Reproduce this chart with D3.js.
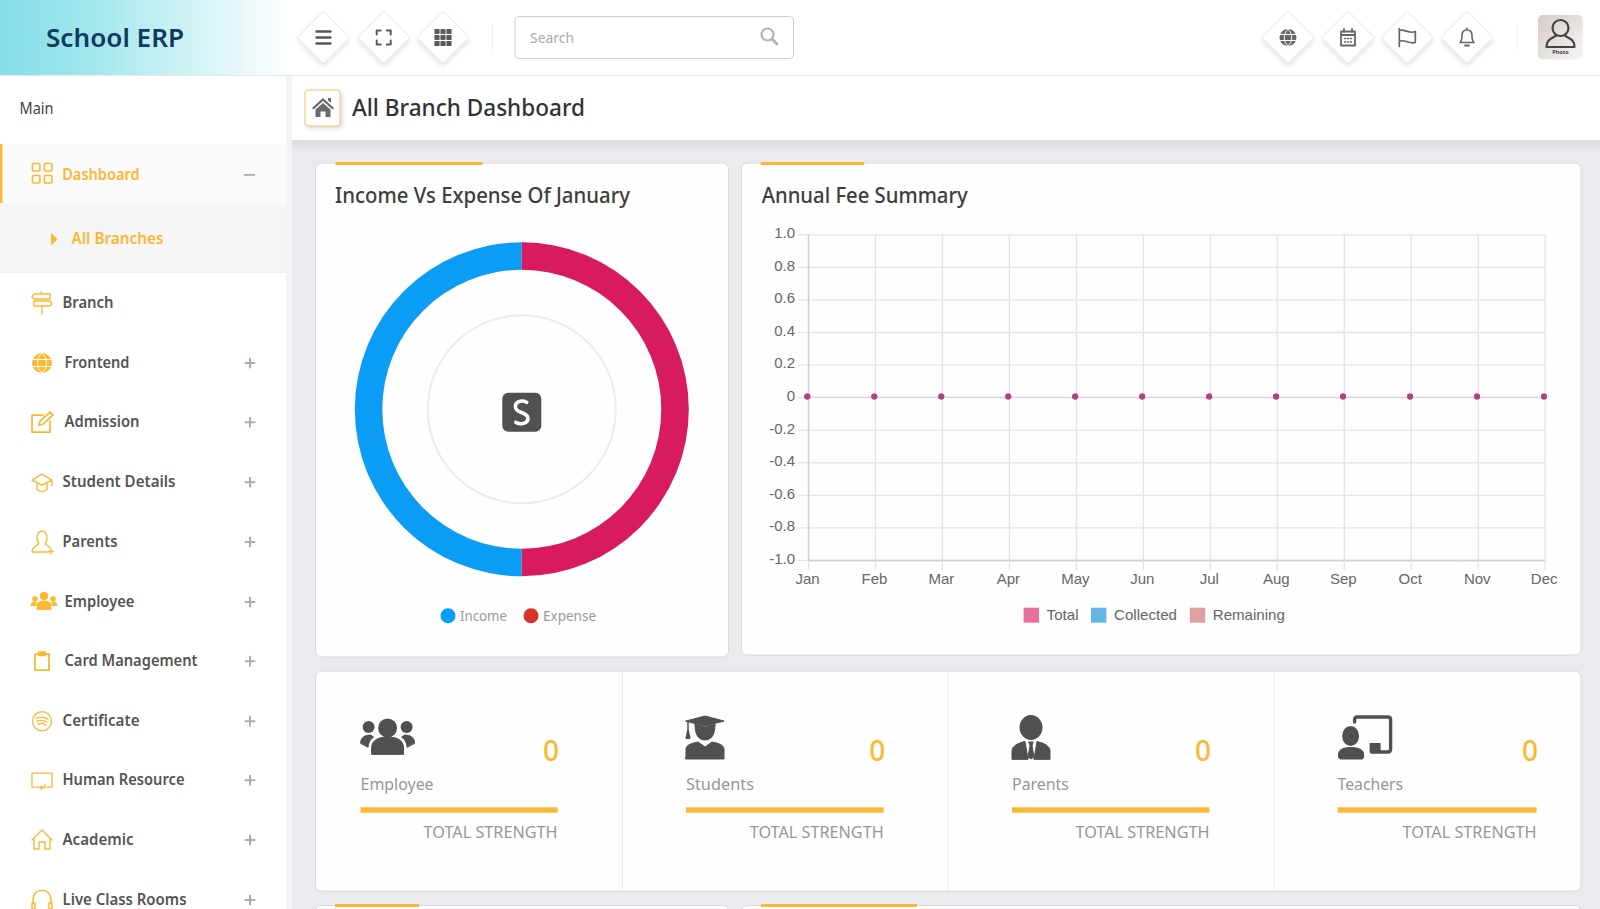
<!DOCTYPE html>
<html lang="en">
<head>
  <meta charset="utf-8">
  <title>School ERP</title>
  <script src="https://d3js.org/d3.v7.min.js"></script>
  <style>
    html, body { margin: 0; padding: 0; background: #e9ebef; overflow: hidden; }
    svg { display: block; }
    .sans { font-family: "Noto Sans", sans-serif; }
    .chart text { font-family: "Liberation Sans", Arial, sans-serif; }
  </style>
</head>
<body>
  <div id="chart"></div>

  <script type="text/javascript">
    "use strict"

    // data
    var months = ["Jan", "Feb", "Mar", "Apr", "May", "Jun", "Jul", "Aug", "Sep", "Oct", "Nov", "Dec"];
    var yTicks = [1, 0.8, 0.6, 0.4, 0.2, 0, -0.2, -0.4, -0.6, -0.8, -1];
    var totalFees = [0, 0, 0, 0, 0, 0, 0, 0, 0, 0, 0, 0];
    var collectedFees = [0, 0, 0, 0, 0, 0, 0, 0, 0, 0, 0, 0];
    var remainingFees = [0, 0, 0, 0, 0, 0, 0, 0, 0, 0, 0, 0];
    var pieLabels = ["Income", "Expense"];
    var pieValues = [50, 50];
    var statLabels = ["Employee", "Students", "Parents", "Teachers"];
    var statValues = [0, 0, 0, 0];
    var menuLabels = ["Branch", "Frontend", "Admission", "Student Details", "Parents", "Employee",
      "Card Management", "Certificate", "Human Resource", "Academic", "Live Class Rooms"];

    // layout, measured on the reference
    var orange = "#fbb832", dark = "#505050";
    var menuX = [62.5, 64.5, 64.5, 62.5, 62.5, 64.5, 64.5, 62.5, 62.5, 62.5, 62.5];
    var menuY = [308, 368, 427.2, 487.2, 547, 607, 666.2, 726.2, 785.2, 845, 905];
    var menuW = [51, 65, 75, 113, 55, 70, 133, 77, 122, 71, 124];
    var statX = [360.6, 686, 1012, 1337.6];
    var statW = [197, 197.7, 197.5, 199];
    var statLabelW = [73, 68, 57, 65.5];

    var svg = d3.select("#chart").append("svg")
        .attr("class", "sans")
        .attr("width", 1600)
        .attr("height", 909);

    var defs = svg.append("defs");
    var gradLogo = defs.append("linearGradient").attr("id", "logoBg");
    gradLogo.append("stop").attr("offset", "0").attr("stop-color", "#84dfe8");
    gradLogo.append("stop").attr("offset", "0.35").attr("stop-color", "#a6e8ee");
    gradLogo.append("stop").attr("offset", "1").attr("stop-color", "#ffffff");
    var gradPhoto = defs.append("linearGradient").attr("id", "photoBg")
        .attr("x1", 0).attr("y1", 0).attr("x2", 1).attr("y2", 1);
    gradPhoto.append("stop").attr("offset", "0").attr("stop-color", "#d6cbc6");
    gradPhoto.append("stop").attr("offset", "1").attr("stop-color", "#f7f6f5");
    var gradShade = defs.append("linearGradient").attr("id", "shade")
        .attr("x1", 0).attr("y1", 0).attr("x2", 0).attr("y2", 1);
    gradShade.append("stop").attr("offset", "0").attr("stop-color", "#d9dbde");
    gradShade.append("stop").attr("offset", "1").attr("stop-color", "#e9ebef");

    function box(g, x, y, w, h, fill, rx) {
      return g.append("rect").attr("x", x).attr("y", y).attr("width", w).attr("height", h)
          .attr("fill", fill).attr("rx", rx || 0);
    }

    function label(g, x, y, text, o) {
      var t = g.append("text").attr("x", x).attr("y", y).text(text)
          .attr("font-size", o.size).attr("fill", o.fill)
          .attr("font-weight", o.weight || 400)
          .attr("text-anchor", o.anchor || "start");
      if (o.w) t.attr("textLength", o.w).attr("lengthAdjust", "spacingAndGlyphs");
      return t;
    }

    function path(g, d, stroke, width, fill) {
      return g.append("path").attr("d", d)
          .attr("fill", fill || "none")
          .attr("stroke", stroke || "none")
          .attr("stroke-width", width || 0)
          .attr("stroke-linecap", "round")
          .attr("stroke-linejoin", "round");
    }

    // ---- page background pieces
    box(svg, 292, 140, 1308, 12, "url(#shade)");
    box(svg, 0, 0, 1600, 75, "#ffffff");
    box(svg, 0, 0, 290, 75, "url(#logoBg)");
    box(svg, 0, 75, 1600, 1, "#e8e9ea");
    box(svg, 292, 76, 1308, 64, "#ffffff");
    box(svg, 0, 76, 286, 833, "#ffffff");
    box(svg, 286, 76, 6, 833, "#f3f4f7");

    // ---- header
    label(svg, 46, 46.5, "School ERP", {size: 26, fill: "#12395e", weight: 600, w: 138});

    var headerIcons = [
      {x: 323.5, draw: function (g) {
        path(g, "M-7,-6H7M-7,0H7M-7,6H7", "#5a5a5a", 2.4);
      }},
      {x: 383.7, draw: function (g) {
        path(g, "M-7,-3V-7H-3M3,-7H7V-3M7,3V7H3M-3,7H-7V3", "#5a5a5a", 2);
      }},
      {x: 443, draw: function (g) {
        [-6, 0, 6].forEach(function (a) {
          [-6, 0, 6].forEach(function (b) { box(g, a - 2.6, b - 2.6, 5.2, 5.2, "#5a5a5a", 0.8); });
        });
      }},
      {x: 1288, draw: function (g) {
        g.append("circle").attr("r", 8.5).attr("fill", "#666");
        path(g, "M-8.5,-3H8.5M-8.5,3H8.5M0,-8.5C-5,-4 -5,4 0,8.5C5,4 5,-4 0,-8.5", "#fff", 1);
      }},
      {x: 1348, draw: function (g) {
        path(g, "M-7,-6H7V8H-7ZM-7,-2.5H7", "#666", 1.8);
        path(g, "M-4,-8.5V-5.5M4,-8.5V-5.5", "#666", 1.8);
        path(g, "M-3.5,1H-2.5M-0.5,1H0.5M2.5,1H3.5M-3.5,4.5H-2.5M-0.5,4.5H0.5M2.5,4.5H3.5", "#666", 1.6);
      }},
      {x: 1407.3, draw: function (g) {
        path(g, "M-8,-9V9M-8,-7C-3,-9 2,-3 8,-6V5C2,7 -3,1 -8,4", "#666", 1.7);
      }},
      {x: 1467, draw: function (g) {
        path(g, "M-7,5H7C5,3 5,1 5,-2C5,-6 3,-7.5 0,-7.5C-3,-7.5 -5,-6 -5,-2C-5,1 -5,3 -7,5ZM0,-7.5V-9.5", "#666", 1.6);
        path(g, "M-2,8H2", "#666", 1.8);
      }}
    ];

    headerIcons.forEach(function (ic) {
      var g = svg.append("g").attr("transform", "translate(" + ic.x + ",37.5)");
      g.append("rect").attr("x", -18.5).attr("y", -18.5).attr("width", 37).attr("height", 37).attr("rx", 2)
          .attr("fill", "#fff").attr("stroke", "#ececec")
          .attr("transform", "rotate(45)")
          .style("filter", "drop-shadow(2px 2px 2px rgba(0,0,0,0.10))");
      ic.draw(g);
    });

    box(svg, 492, 25, 1, 25, "#eeeeee");
    box(svg, 1516.5, 25, 1, 25, "#eeeeee");

    box(svg, 515, 16.5, 278.5, 42, "#fff", 4).attr("stroke", "#cfcfcf").attr("stroke-width", 1);
    label(svg, 530, 42.5, "Search", {size: 15, fill: "#a9a9a9", w: 44});
    var lens = svg.append("g").attr("transform", "translate(769,36)");
    lens.append("circle").attr("cx", -1.5).attr("cy", -1.5).attr("r", 6).attr("fill", "none")
        .attr("stroke", "#b5b5b5").attr("stroke-width", 2.2);
    path(lens, "M3,3L8,8", "#b5b5b5", 3);

    box(svg, 1538, 15, 44.7, 44.5, "url(#photoBg)", 5);
    var avatar = svg.append("g").attr("transform", "translate(1560.5,36)");
    avatar.append("circle").attr("cy", -8).attr("r", 8).attr("fill", "none").attr("stroke", "#444").attr("stroke-width", 2.2);
    path(avatar, "M-14,11C-14,3 -8,2 -5,0M14,11C14,3 8,2 5,0M-14,11H14", "#444", 2.2);
    label(svg, 1560.5, 54, "Photo", {size: 5.5, fill: "#444", anchor: "middle", weight: 700});

    // ---- title bar
    box(svg, 305, 90, 35, 36, "#fff", 3).attr("stroke", "#f7c56a")
        .style("filter", "drop-shadow(2px 2px 2px rgba(0,0,0,0.14))");
    var home = svg.append("g").attr("transform", "translate(323,107)");
    path(home, "M-11,1L0,-9L11,1L9.5,2.5L0,-6L-9.5,2.5Z", null, 0, "#6a6a6a");
    path(home, "M-7.5,2.5L0,-4L7.5,2.5V10H2.5V4.5H-2.5V10H-7.5ZM5,-9H8V-4L5,-6.5Z", null, 0, "#6a6a6a");
    label(svg, 352, 116, "All Branch Dashboard", {size: 24, fill: "#333", weight: 500, w: 233});

    // ---- sidebar
    label(svg, 19.5, 114, "Main", {size: 15.5, fill: "#444", w: 34});
    box(svg, 0, 144, 286, 59, "#fafafa");
    box(svg, 0, 203, 286, 69, "#f6f6f6");
    box(svg, 0, 144, 2.5, 59, orange);
    box(svg, 0, 272, 286, 1, "#efefef");

    var dashIcon = svg.append("g");
    [[31.6, 162.7], [43.6, 162.7], [31.6, 174.7], [43.6, 174.7]].forEach(function (p) {
      box(dashIcon, p[0] + 0.8, p[1] + 0.8, 7.5, 7.5, "none", 1).attr("stroke", orange).attr("stroke-width", 1.6);
    });
    label(svg, 62.2, 179.5, "Dashboard", {size: 16, fill: orange, weight: 600, w: 77.5});
    box(svg, 244, 174, 11, 1.8, "#a9aeb6");
    path(svg, "M51,233L57.5,239.3L51,245.6Z", null, 0, orange);
    label(svg, 71.5, 244, "All Branches", {size: 16, fill: orange, weight: 600, w: 92});

    var sideIcons = [
      function (g) { path(g, "M-10,-6L-8,-9H8V-4H-8ZM10,1L8,-2H-8V3H8ZM0,3V11M-1,-9V-11", orange, 1.4); },
      function (g) { g.append("circle").attr("r", 10).attr("fill", orange);
        path(g, "M-10,-3.5H10M-10,3.5H10M0,-10C-6,-5 -6,5 0,10C6,5 6,-5 0,-10", "#fff", 1); },
      function (g) { path(g, "M1,-7H-10V10H8V-1", orange, 1.7); path(g, "M-3,3L-2,-1L8,-10L11,-7L1,2Z", orange, 1.7); },
      function (g) { path(g, "M-10,-2L0,-8L10,-2L0,3ZM-5,1V7C-2,10 2,10 5,7V1M10,-2V4", orange, 1.4); },
      function (g) { path(g, "M-10,10C-10,5 -6,4 -3,2C-6,-2 -6,-10 0,-11C6,-10 6,-2 3,2C5,3 7,4 8,6M-10,10H7M9,7V12M6.5,9.5H11.5", orange, 1.3); },
      function (g) { g.attr("transform", g.attr("transform") + " translate(2,0)");
        g.append("circle").attr("cy", -6).attr("r", 4.3).attr("fill", orange);
        g.append("circle").attr("cx", -9).attr("cy", -3).attr("r", 2.8).attr("fill", orange);
        g.append("circle").attr("cx", 9).attr("cy", -3).attr("r", 2.8).attr("fill", orange);
        path(g, "M-7,7V3C-7,0 -3,-1 0,-1C3,-1 7,0 7,3V7Z", orange, 1, orange);
        path(g, "M-13,3C-13,0 -10,0 -8,0L-8.5,3.5Z M13,3C13,0 10,0 8,0L8.5,3.5Z", orange, 1, orange); },
      function (g) { path(g, "M-4,-7H-7V9H7V-7H4", orange, 1.8); box(g, -4, -10, 8, 5, orange, 1); },
      function (g) { g.append("circle").attr("r", 9.5).attr("fill", "none").attr("stroke", orange).attr("stroke-width", 1.3);
        path(g, "M-6,-3C-2,-4 3,-4 6,-2M-5,0C-2,-1 2,-1 5,1M-4,3C-1,2 2,2 4,4", orange, 1.3); },
      function (g) { path(g, "M-3,7H-10V-7H10V7H5M3,4V7.5H-2M-2,7.5L0,5.8M-2,7.5L0,9", orange, 1.3); },
      function (g) { path(g, "M-10,0L0,-10L10,0M-8,-2V9H-3V2H3V9H8V-2", orange, 1.4); },
      function (g) { path(g, "M-9,4V0C-9,-13 9,-13 9,0V4M-10,3H-7V9H-10ZM7,3H10V9H7Z", orange, 1.4); }
    ];

    menuLabels.forEach(function (name, i) {
      label(svg, menuX[i], menuY[i], name, {size: 16, fill: "#555", weight: 600, w: menuW[i]});
      sideIcons[i](svg.append("g").attr("transform", "translate(42," + (menuY[i] - 5) + ")"));
      if (i > 0) {
        path(svg, "M245.5," + (menuY[i] - 5) + "H254.5M250," + (menuY[i] - 9.5) + "V" + (menuY[i] - 0.5), "#a9aeb6", 2);
      }
    });

    // ---- cards
    function card(x, y, w, h) {
      box(svg, x, y, w, h, "#fefefe", 6).attr("stroke", "#d8dade").attr("stroke-width", 1);
    }
    card(315.5, 163, 413, 494);
    card(741.5, 163, 839.5, 492);
    card(315.5, 671, 1265.5, 220);
    card(315.5, 905.5, 413, 40);
    card(741.5, 905.5, 839.5, 40);

    box(svg, 335.5, 162, 147, 3, orange);
    box(svg, 760.7, 162, 103.5, 3, orange);
    box(svg, 335, 904, 84, 3, orange);
    box(svg, 761, 904, 156, 3, orange);

    label(svg, 335, 202.5, "Income Vs Expense Of January", {size: 21, fill: "#3d3d3d", weight: 500, w: 295});
    label(svg, 761.7, 202.5, "Annual Fee Summary", {size: 21, fill: "#3d3d3d", weight: 500, w: 206});

    // ---- doughnut
    var pieColors = ["#0b9df5", "#d81b60"];
    var pieDots = ["#0b9df5", "#d6332a"];
    var pieLegendX = [448, 531];
    var pieLegendW = [47, 53];

    var donut = svg.append("g").attr("transform", "translate(521.8,409.3)");
    var pie = d3.pie().sort(null).startAngle(2 * Math.PI).endAngle(0);
    var arc = d3.arc().innerRadius(139.5).outerRadius(167);
    donut.selectAll("path").data(pie(pieValues)).enter().append("path")
        .attr("d", arc)
        .attr("fill", function (d, i) { return pieColors[i]; });
    donut.append("circle").attr("r", 94).attr("fill", "none").attr("stroke", "#ececec").attr("stroke-width", 2);

    var logo = donut.append("g").attr("transform", "translate(0,3)");
    box(logo, -19.5, -19.5, 39, 39, dark, 6);
    path(logo, "M5,-10C-1,-13 -8,-10 -6,-4C-4,1 5,0 6,5C7,11 0,13 -6,10", "#fff", 3.6);

    pieLabels.forEach(function (name, i) {
      svg.append("circle").attr("cx", pieLegendX[i]).attr("cy", 615.7).attr("r", 7.5).attr("fill", pieDots[i]);
      label(svg, pieLegendX[i] + 12, 621, name, {size: 14, fill: "#9a9a9a", w: pieLegendW[i]});
    });

    // ---- annual fee line chart
    var chart = svg.append("g").attr("class", "chart");
    var x = d3.scalePoint().domain(months).range([808, 1544.7]);
    var y = d3.scaleLinear().domain([-1, 1]).range([560, 234.3]);

    function yLabel(v) { return v === 0 ? "0" : v.toFixed(1); }

    // grid lines first, the tick marks and labels after
    chart.append("g").attr("class", "grid")
        .attr("transform", "translate(808,0)")
        .call(d3.axisLeft(y).tickValues(yTicks).tickSize(-736.7).tickSizeOuter(0).tickFormat(""));
    chart.append("g").attr("class", "grid")
        .attr("transform", "translate(0,560)")
        .call(d3.axisBottom(x).tickSize(-325.7).tickSizeOuter(0).tickFormat(""));
    chart.append("g").attr("class", "yaxis")
        .attr("transform", "translate(808,0)")
        .call(d3.axisLeft(y).tickValues(yTicks).tickSize(10).tickPadding(3).tickSizeOuter(0).tickFormat(yLabel));
    chart.append("g").attr("class", "xaxis")
        .attr("transform", "translate(0,560)")
        .call(d3.axisBottom(x).tickSize(10).tickPadding(3).tickSizeOuter(0));

    chart.selectAll(".grid path").remove();
    chart.selectAll(".grid line").attr("stroke", "#e4e4e4").attr("stroke-width", 1.3);
    chart.selectAll(".yaxis path, .xaxis path").attr("stroke", "#cfcfcf").attr("stroke-width", 1.3);
    chart.selectAll(".yaxis line, .xaxis line").attr("stroke", "#e2e2e2").attr("stroke-width", 1.2);
    chart.selectAll(".yaxis text, .xaxis text")
        .attr("fill", "#666").attr("font-size", 15).attr("font-family", "Liberation Sans, Arial, sans-serif");
    chart.selectAll(".yaxis text").attr("dy", "0.22em");
    chart.selectAll(".xaxis text").attr("dx", -1);

    var series = [
      {name: "Remaining", values: remainingFees, point: "#d98e94"},
      {name: "Collected", values: collectedFees, point: "#4aa8de"},
      {name: "Total", values: totalFees, point: "#b5407f"}
    ];
    var line = d3.line()
        .x(function (d, i) { return x(months[i]); })
        .y(function (d) { return y(d); });

    series.forEach(function (s) {
      chart.append("path").attr("d", line(s.values)).attr("fill", "none")
          .attr("stroke", s.point).attr("stroke-opacity", 0.08);
      chart.selectAll(".pt-" + s.name).data(s.values).enter().append("circle")
          .attr("class", "pt-" + s.name)
          .attr("cx", function (d, i) { return x(months[i]) - 0.7; })
          .attr("cy", function (d) { return y(d) - 0.6; })
          .attr("r", 3)
          .attr("fill", s.point);
    });

    var legendNames = ["Total", "Collected", "Remaining"];
    var legendColors = ["#ea6f9d", "#63b6e6", "#dfa0a2"];
    var legendBoxX = [1023.6, 1091, 1189.8];
    var legendW = [32, 63, 72];
    legendNames.forEach(function (name, i) {
      box(chart, legendBoxX[i], 607.7, 15.4, 15, legendColors[i]);
      label(chart, legendBoxX[i] + 23, 620, name, {size: 15, fill: "#666", w: legendW[i]});
    });

    // ---- stat tiles
    [622, 947.3, 1273.4].forEach(function (px) { box(svg, px, 671, 1, 220, "#eceef0"); });

    var statIcons = [
      function (g) {
        g.append("circle").attr("cx", 27).attr("cy", 12).attr("r", 9.5).attr("fill", dark);
        g.append("circle").attr("cx", 8).attr("cy", 11).attr("r", 6).attr("fill", dark);
        g.append("circle").attr("cx", 46).attr("cy", 11).attr("r", 6).attr("fill", dark);
        path(g, "M11,38V32C11,24 18,21 27,21C36,21 43,24 43,32V38Z", dark, 1, dark);
        path(g, "M0,27C0,21 5,19 10,19L13,21C9,24 8,27 7.5,31Z M54,27C54,21 49,19 44,19L41,21C45,24 46,27 46.5,31Z", dark, 1, dark);
      },
      function (g) {
        path(g, "M0,5L19,0L38,5L19,10Z", dark, 1, dark);
        path(g, "M9,8C9,14 10,24 19,24C28,24 29,14 29,8L19,11Z", dark, 1, dark);
        path(g, "M0,38V33C0,29 6,27 12,26L19,31L26,26C32,27 38,29 38,33V43H0Z", dark, 1, dark);
        path(g, "M2,6V17", dark, 1.5);
        path(g, "M0.5,22L2,15L3.5,22Z", dark, 2, dark);
      },
      function (g) {
        g.append("ellipse").attr("cx", 19).attr("cy", 11.5).attr("rx", 11.5).attr("ry", 12.5).attr("fill", dark);
        path(g, "M0,43V35C0,30 6,27 13,25.5L16,43Z M38,43V35C38,30 32,27 25,25.5L22,43Z", dark, 1, dark);
        path(g, "M17,26H21L20,30L22,41L19,43L16,41L18,30Z", dark, 1, dark);
      },
      function (g) {
        path(g, "M17,6V3.5C17,2 18,1 19.5,1H50C52,1 53,2 53,3.5V33C53,35 52,36 50,36H34", dark, 3.4);
        box(g, 32, 27, 11, 9, dark);
        g.append("ellipse").attr("cx", 13).attr("cy", 20).attr("rx", 8.5).attr("ry", 10).attr("fill", dark);
        path(g, "M1,41V38C1,33 7,31.5 13,31.5C19,31.5 26,33 26,38V41C26,42 25,43 24,43H3C2,43 1,42 1,41Z", dark, 1, dark);
      }
    ];

    statLabels.forEach(function (name, i) {
      var left = statX[i], right = left + statW[i];
      statIcons[i](svg.append("g").attr("transform", "translate(" + left + "," + 716 + ")"));
      label(svg, right + 1.5, 761, statValues[i], {size: 28, fill: orange, weight: 500, anchor: "end"});
      label(svg, left, 790, name, {size: 17, fill: "#979797", w: statLabelW[i]});
      box(svg, left, 807.3, statW[i], 5.4, orange);
      label(svg, right, 838, "TOTAL STRENGTH", {size: 17, fill: "#979797", anchor: "end", w: 134});
    });
  </script>
</body>

</html>
